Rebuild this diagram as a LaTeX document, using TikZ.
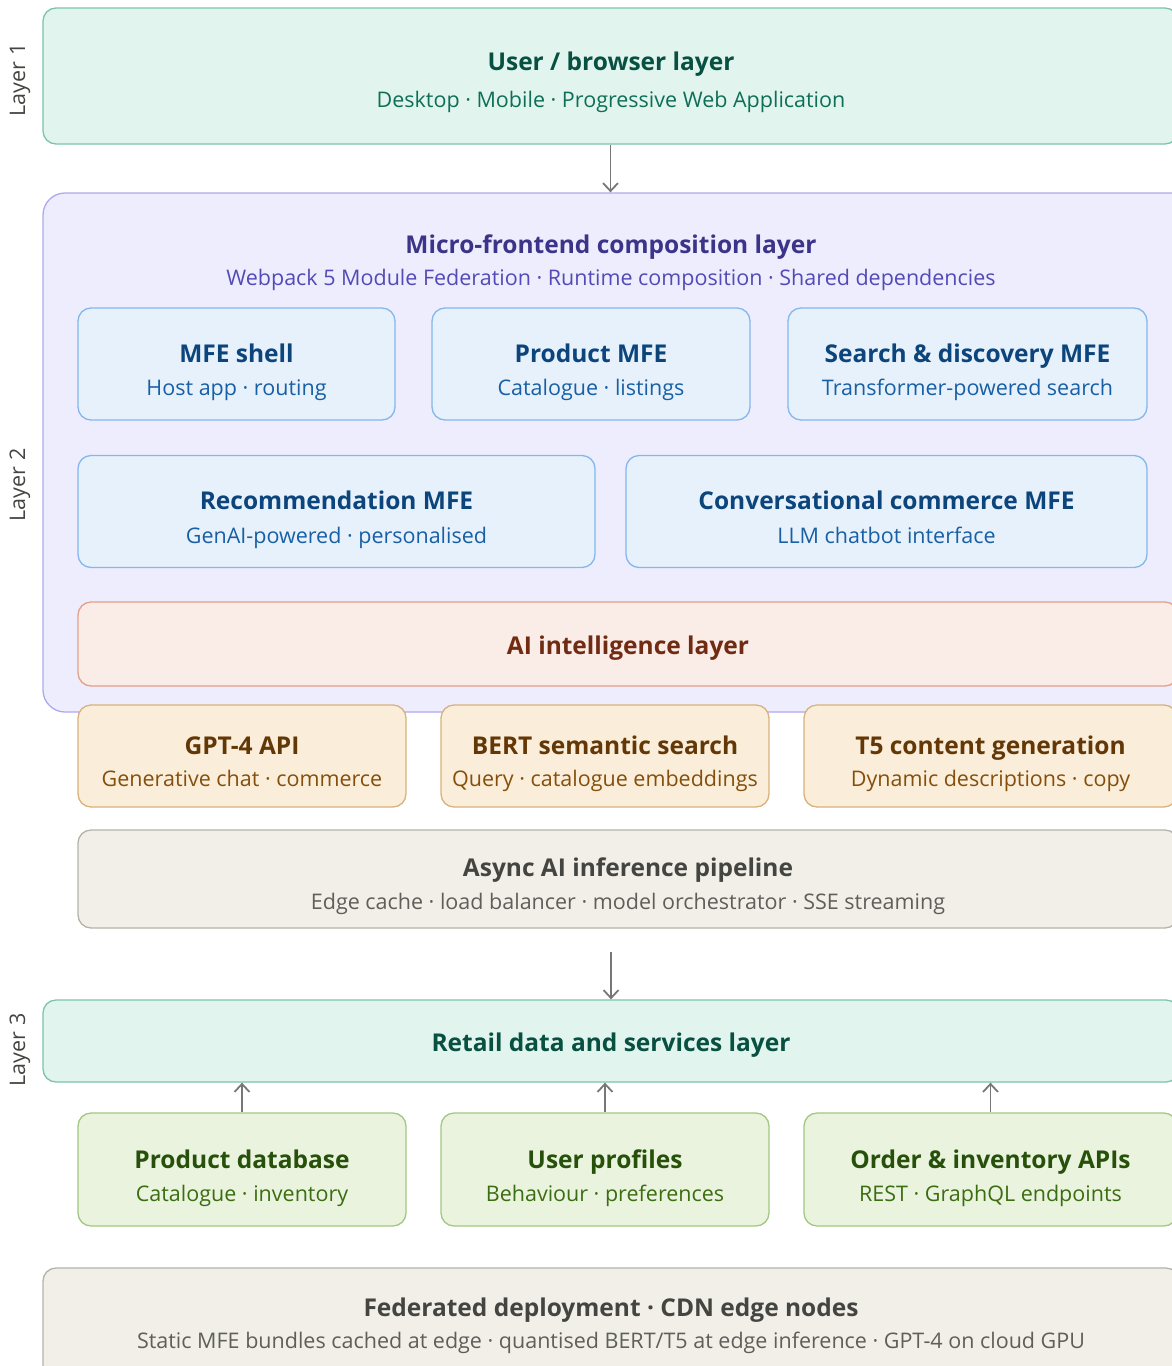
\documentclass[tikz,border=0pt]{standalone}
\usepackage{fontspec}
\setmainfont{Open Sans}
\usepackage{tikz}
\usetikzlibrary{positioning,arrows.meta}
% palette
\definecolor{tealfill}{HTML}{E1F5EE}\definecolor{tealdraw}{HTML}{7DC3AB}
\definecolor{tealttl}{HTML}{085041}\definecolor{tealsub}{HTML}{0F6E56}
\definecolor{purpfill}{HTML}{EEEDFE}\definecolor{purpdraw}{HTML}{AFA9EC}
\definecolor{purpttl}{HTML}{3C3489}\definecolor{purpsub}{HTML}{534AB7}
\definecolor{bluefill}{HTML}{E6F1FB}\definecolor{bluedraw}{HTML}{85B7EB}
\definecolor{bluettl}{HTML}{0C447C}\definecolor{bluesub}{HTML}{185FA5}
\definecolor{coralfill}{HTML}{FAECE7}\definecolor{coraldraw}{HTML}{E3A08A}
\definecolor{coralttl}{HTML}{712B13}
\definecolor{ambfill}{HTML}{FAEEDA}\definecolor{ambdraw}{HTML}{D8B27C}
\definecolor{ambttl}{HTML}{633806}\definecolor{ambsub}{HTML}{854F0B}
\definecolor{grayfill}{HTML}{F1EFE8}\definecolor{graydraw}{HTML}{B4B2A9}
\definecolor{grayttl}{HTML}{444441}\definecolor{graysub}{HTML}{5F5E5A}
\definecolor{grnfill}{HTML}{EAF3DE}\definecolor{grndraw}{HTML}{A3C77F}
\definecolor{grnttl}{HTML}{27500A}\definecolor{grnsub}{HTML}{3B6D11}
\definecolor{arrowgray}{HTML}{777775}
\tikzset{%
	box/.style={
		rectangle,
		draw,
		line width=1.3pt,
		rounded corners=13pt,
		inner sep=0pt
	},
	ttl/.style={
		font=\fontsize{24.5}{28}\selectfont\bfseries,
		text height=19pt, text depth=3pt, inner sep=0pt
	},
	sub/.style={
		font=\fontsize{21.5}{25}\selectfont,
		text height=16pt, text depth=3pt, inner sep=0pt
	},
	box-teal/.style={ fill=tealfill, draw=tealdraw },
	box-purp/.style={ fill=purpfill, draw=purpdraw },
	box-blue/.style={ fill=bluefill, draw=bluedraw },
	box-coral/.style={ fill=coralfill, draw=coraldraw },
	box-amb/.style={ fill=ambfill, draw=ambdraw },
	box-gray/.style={ fill=grayfill, draw=graydraw },
	box-grn/.style={ fill=grnfill, draw=grndraw },
	flow/.style={ draw=arrowgray, line width=1.8pt, -{Straight Barb[length=8pt,width=15pt]} },
	layer-lbl/.style={ rotate=90, text=grayttl, font=\fontsize{21.5}{25}\selectfont }
}

\begin{document}
\begin{tikzpicture}[x=1pt, y=-1pt]
\useasboundingbox (0,0) rectangle (1172,1366);

% layer 1
\node[box, box-teal, minimum width=1135pt, minimum height=136pt] (user) at (610.5,76) {};
\node[ttl, text=tealttl] (user-t) at (611,62) {User / browser layer};
\node[sub, text=tealsub] (user-s) at (611,101) {Desktop · Mobile · Progressive Web Application};

% layer 2 container
\node[box, box-purp, rounded corners=22pt, minimum width=1157pt, minimum height=519pt] (mfe) at (621.5,452.5) {};
\node[ttl, text=purpttl] (mfe-t) at (611,245) {Micro-frontend composition layer};
\node[sub, text=purpsub] (mfe-s) at (611,279) {Webpack 5 Module Federation · Runtime composition · Shared dependencies};

% micro-frontends
\foreach \n/\x/\y/\w/\t/\s in {
	shell/236.5/364/317/MFE shell/Host app · routing,
	prod/591/364/318/Product MFE/Catalogue · listings,
	search/967.5/364/359/Search \& discovery MFE/Transformer-powered search,
	rec/336.5/511.5/517/Recommendation MFE/GenAI-powered · personalised,
	conv/886.5/511.5/521/Conversational commerce MFE/LLM chatbot interface}
{
	\node[box, box-blue, minimum width=\w pt, minimum height=112pt] (\n) at (\x,\y) {};
	\node[ttl, text=bluettl] (\n-t) at ([yshift=10pt]\n.center) {\t};
	\node[sub, text=bluesub] (\n-s) at ([yshift=-25pt]\n.center) {\s};
}

% AI layer
\node[box, box-coral, minimum width=1100pt, minimum height=84pt] (ai) at (628,644) {};
\node[ttl, text=coralttl] (ai-t) at ([yshift=-2pt]ai.center) {AI intelligence layer};

% models
\foreach \n/\x/\w/\t/\s in {
	gpt/242/328/GPT-4 API/Generative chat · commerce,
	bert/605/328/BERT semantic search/Query · catalogue embeddings,
	tfive/990.5/373/T5 content generation/Dynamic descriptions · copy}
{
	\node[box, box-amb, minimum width=\w pt, minimum height=102pt] (\n) at (\x,756) {};
	\node[ttl, text=ambttl] (\n-t) at ([yshift=10pt]\n.center) {\t};
	\node[sub, text=ambsub] (\n-s) at ([yshift=-24pt]\n.center) {\s};
}

% pipeline
\node[box, box-gray, minimum width=1100pt, minimum height=98pt] (pipe) at (628,879) {};
\node[ttl, text=grayttl] (pipe-t) at ([yshift=11pt]pipe.center) {Async AI inference pipeline};
\node[sub, text=graysub] (pipe-s) at ([yshift=-24pt]pipe.center) {Edge cache · load balancer · model orchestrator · SSE streaming};

% layer 3
\node[box, box-teal, minimum width=1136pt, minimum height=82pt] (retail) at (611,1041) {};
\node[ttl, text=tealttl] (retail-t) at ([yshift=-2pt]retail.center) {Retail data and services layer};

% data sources
\foreach \n/\x/\w/\t/\s in {
	pdb/242/328/Product database/Catalogue · inventory,
	prof/605/328/User profiles/Behaviour · preferences,
	order/990.5/373/Order \& inventory APIs/REST · GraphQL endpoints}
{
	\node[box, box-grn, minimum width=\w pt, minimum height=113pt] (\n) at (\x,1169.5) {};
	\node[ttl, text=grnttl] (\n-t) at ([yshift=9.5pt]\n.center) {\t};
	\node[sub, text=grnsub] (\n-s) at ([yshift=-25.5pt]\n.center) {\s};
}

% deployment
\node[box, box-gray, minimum width=1136pt, minimum height=114pt] (fed) at (611,1325) {};
\node[ttl, text=grayttl] (fed-t) at (611,1308) {Federated deployment · CDN edge nodes};
\node[sub, text=graysub] (fed-s) at (611,1342) {Static MFE bundles cached at edge · quantised BERT/T5 at edge inference · GPT-4 on cloud GPU};

% layer labels
\node[layer-lbl] (lbl-1) at (20,80) {Layer 1};
\node[layer-lbl] (lbl-2) at (20,485) {Layer 2};
\node[layer-lbl] (lbl-3) at (20,1050) {Layer 3};

% connections
\coordinate (pipe-out) at (611,952);
\draw[flow] (user.south) -- (user.south |- mfe.north);
\draw[flow] (pipe-out) -- (pipe-out |- retail.north);
\foreach \n in {pdb,prof,order}
	\draw[flow] (\n.north) -- (\n.north |- retail.south);

\end{tikzpicture}
\end{document}
